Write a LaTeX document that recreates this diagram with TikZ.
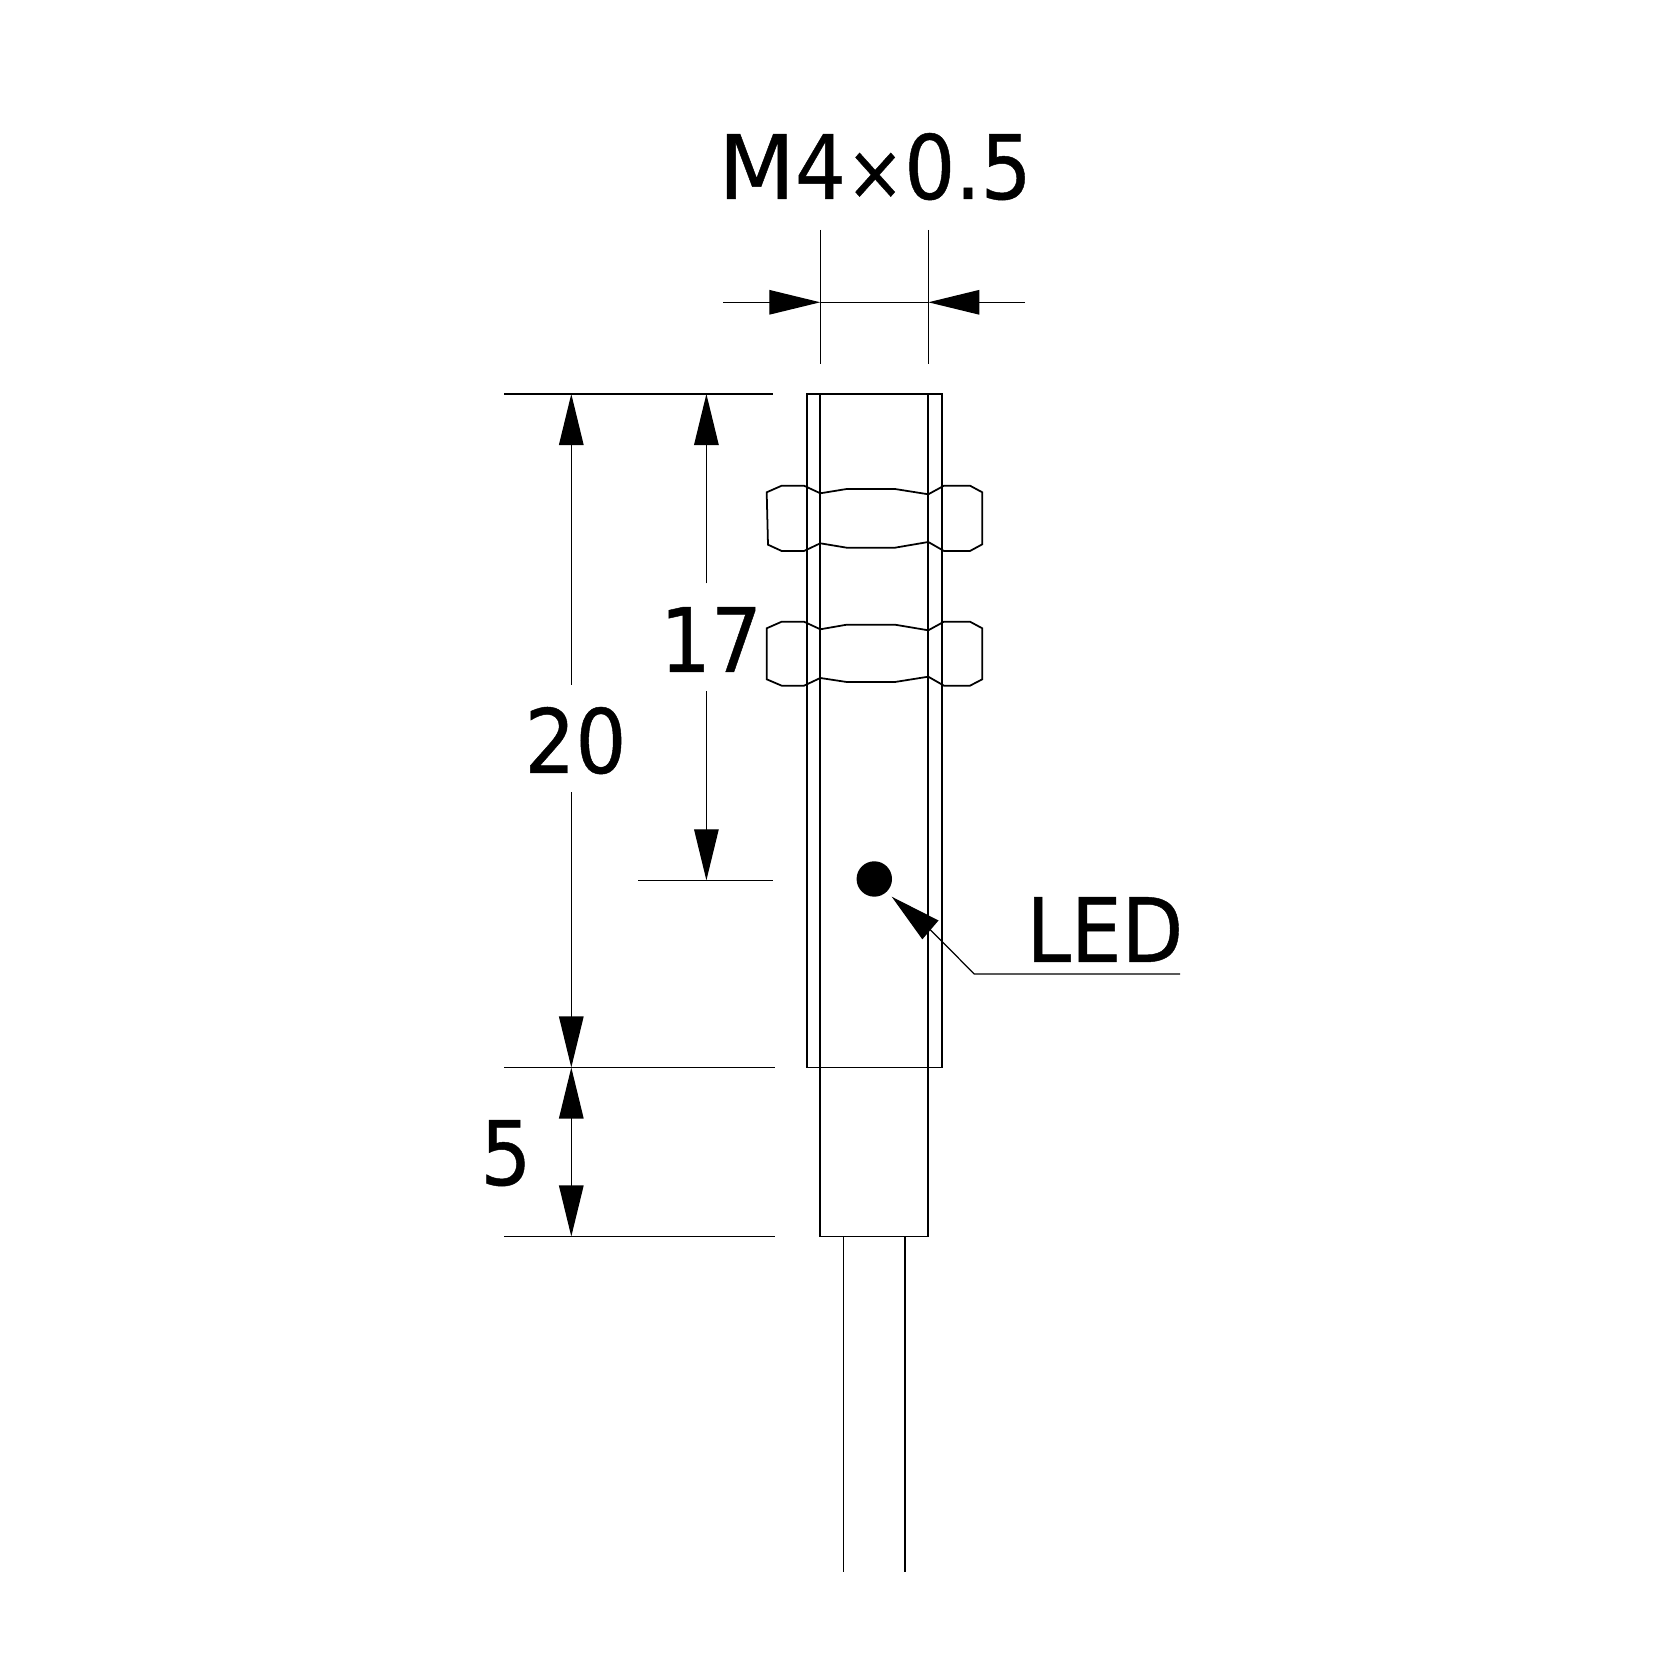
\documentclass[tikz,border=0pt]{standalone}
\usepackage{fontspec}
\setmainfont[FakeStretch=0.9, FakeBold=0.5]{DejaVu Sans}
\usetikzlibrary{arrows.meta}

\begin{document}
\begin{tikzpicture}[x=0.01cm, y=-0.01cm]

    \tikzstyle{part} = [line width=0.5pt];
    \tikzstyle{thin} = [line width=0.35pt];
    \tikzstyle{label} = [inner sep=0, anchor=base, font=\fontsize{25.3}{30}\selectfont];
    \tikzstyle{arrow} = [thin, -{Triangle[length=0.51cm, width=0.245cm]}];
    \tikzstyle{arrow2} = [thin, {Triangle[length=0.51cm, width=0.245cm]}-{Triangle[length=0.51cm, width=0.245cm]}];

    \useasboundingbox (0,0) rectangle (1668,1667);

    % sensor body
    \draw[part] (807,394) rectangle (941.7,1067.5);
    \draw[part] (820.3,394) -- (820.3,1236.5) -- (928.3,1236.5) -- (928.3,394);
    \draw[part] (843.6,1236.5) -- (843.6,1572);
    \draw[part] (905.3,1236.5) -- (905.3,1572);

    % upper nut
    \draw[part] (766.7,492.3) -- (781.7,485.7) -- (804,485.7) -- (820.3,493.3) -- (846.7,489) -- (895,489) -- (928.3,494.3) -- (944,485.7) -- (970,485.7) -- (982.3,492.3) -- (982.3,544.3) -- (970,551) -- (944,551) -- (928.3,542) -- (895,547.7) -- (846.7,547.7) -- (820.3,543.3) -- (804,551) -- (781.7,551) -- (768,544.7) -- cycle;

    % lower nut
    \draw[part] (766.7,628.3) -- (781.7,621.7) -- (804,621.7) -- (820.3,629.3) -- (846.7,624.7) -- (895,624.7) -- (928.3,630.3) -- (944,621.7) -- (970,621.7) -- (982.3,628.3) -- (982.3,679.3) -- (970,685.7) -- (944,685.7) -- (928.3,676.7) -- (895,682) -- (846.7,682) -- (820.3,678) -- (804,685.7) -- (781.7,685.7) -- (766.7,679.3) -- cycle;

    % led
    \node[circle, fill=black, inner sep=0, minimum size=0.354cm] (led) at (874.3,879) {};
    \node[label, anchor=base east] (ledtext) at (1184,962) {LED};
    \coordinate (ledend) at (1180,974);
    \coordinate (ledbend) at (974.3,974);
    \coordinate (ledtail) at (930.3,929.8);
    \coordinate (ledtip) at (891.7,896.7);
    \draw[thin] (ledend) -- (ledbend) -- (ledtail);
    \draw[arrow] (ledtail) -- (ledtip);

    % thread size
    \node[label] (m4) at (875,199) {{\addfontfeature{FakeStretch=1.0}M}4{\fontsize{22}{30}\selectfont×}0.5};
    \coordinate (m4l) at (820.3,302.3);
    \coordinate (m4r) at (928.3,302.3);
    \coordinate (m4la) at (723,302.3);
    \coordinate (m4ra) at (1025,302.3);
    \draw[thin] (820.3,230) -- (820.3,364);
    \draw[thin] (928.3,230) -- (928.3,364);
    \draw[thin] (m4l) -- (m4r);
    \draw[arrow] (m4la) -- (m4l);
    \draw[arrow] (m4ra) -- (m4r);

    % extension lines
    \draw[thin] (504,394) -- (773,394);
    \draw[thin] (638,880.3) -- (773,880.3);
    \draw[thin] (504,1067.5) -- (775,1067.5);
    \draw[thin] (504,1236.5) -- (775,1236.5);

    % dimension 20
    \node[label] (d20) at (575.5,773) {20};
    \coordinate (d20top) at (571.3,394);
    \coordinate (d20bot) at (571.3,1067.5);
    \coordinate (d20a) at (571.3,685);
    \coordinate (d20b) at (571.3,792.5);
    \draw[arrow] (d20a) -- (d20top);
    \draw[arrow] (d20b) -- (d20bot);

    % dimension 17
    \node[label] (d17) at (711,672) {17};
    \coordinate (d17top) at (706.4,394);
    \coordinate (d17bot) at (706.4,880.3);
    \coordinate (d17a) at (706.4,583.5);
    \coordinate (d17b) at (706.4,691.5);
    \draw[arrow] (d17a) -- (d17top);
    \draw[arrow] (d17b) -- (d17bot);

    % dimension 5
    \node[label] (d5) at (506,1185) {5};
    \coordinate (d5top) at (571.3,1067.5);
    \coordinate (d5bot) at (571.3,1236.5);
    \draw[arrow2] (d5top) -- (d5bot);

\end{tikzpicture}
\end{document}
